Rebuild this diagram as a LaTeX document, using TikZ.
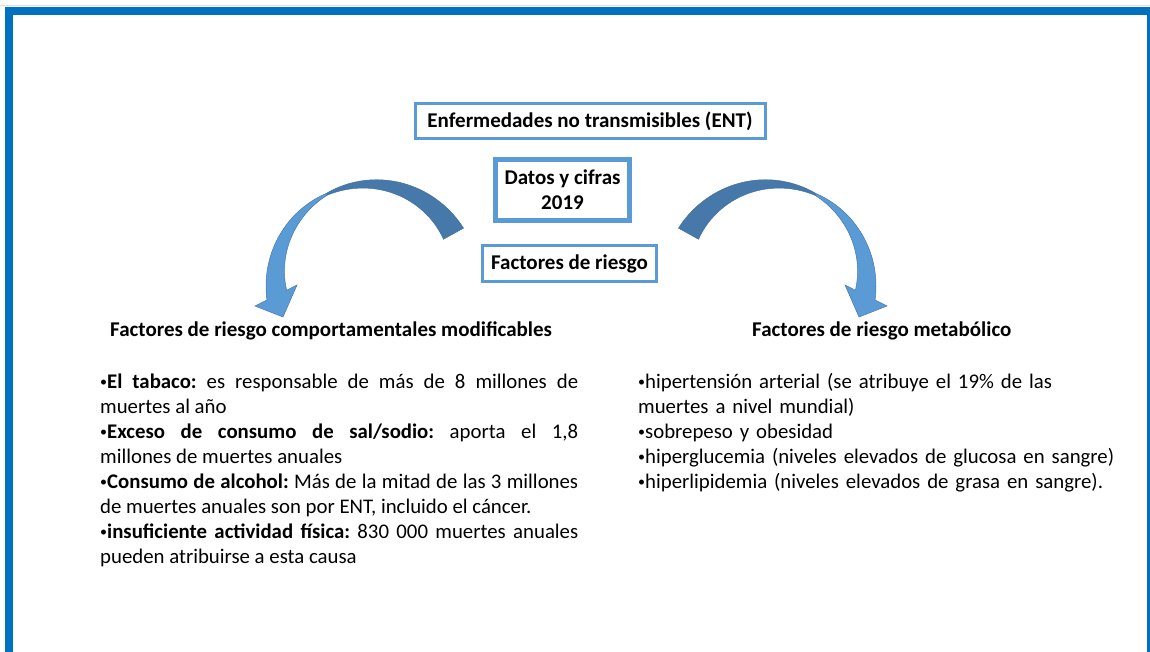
\documentclass[tikz,border=0pt]{standalone}
\usepackage{fontspec}
\setmainfont{Carlito}
\definecolor{framecol}{RGB}{0,112,192}
\definecolor{boxcol}{RGB}{91,155,213}
\definecolor{arrlight}{RGB}{91,155,213}
\definecolor{arrdark}{RGB}{70,121,170}
\definecolor{arredge}{RGB}{70,120,175}
\newcommand{\bul}{{\fontsize{14}{14}\selectfont\raisebox{1.6pt}{•}}}
\tikzset{
  titlebox/.style={draw=boxcol, line width=3pt, fill=white, inner sep=0pt, font=\bfseries\fontsize{21}{25}\selectfont},
  datebox/.style={draw=boxcol, line width=5.5pt, fill=white, inner sep=0pt, align=center, font=\bfseries\fontsize{21}{25}\selectfont},
  heading/.style={inner sep=0pt, anchor=base west, font=\bfseries\fontsize{21}{25}\selectfont},
  bodytext/.style={inner sep=0pt, anchor=base west, font=\fontsize{20.8}{25}\selectfont},
  darkpart/.style={fill=arrdark, draw=arrdark!90!black, line width=0.4pt},
  lightpart/.style={fill=arrlight, draw=arredge, line width=0.5pt}
}
\newcommand{\curvedarrowshape}{%
  \draw[darkpart] plot[domain=29:117,samples=40] ({370+(107-10*(\x-29)/88)*cos(\x)},{280-(107-10*(\x-29)/88)*sin(\x)})
     -- plot[domain=117:29,samples=40] ({370+(84+11*(\x-29)/88)*cos(\x)},{280-(84+11*(\x-29)/88)*sin(\x)}) -- cycle;
  \draw[lightpart] plot[domain=117:191,samples=40] ({370+(97+8*(\x-117)/74)*cos(\x)},{280-(97+8*(\x-117)/74)*sin(\x)})
     -- (255,306) -- (283,317) -- (297,285)
     -- plot[domain=187:117,samples=40] ({370+(95-11*(\x-117)/70)*cos(\x)},{280-(95-11*(\x-117)/70)*sin(\x)}) -- cycle;
}
\begin{document}
\begin{tikzpicture}[x=1pt,y=-1pt]
\useasboundingbox[fill=white] (0,0) rectangle (1150,652);
% frame
\fill[black!13] (0,5) rectangle (1150,6.5);
\fill[framecol] (5,7) rectangle (13,652);
\fill[framecol] (5,7) rectangle (1150,15);
\fill[framecol] (1146.5,7) rectangle (1149.5,652);

% curved arrows
\curvedarrowshape
\begin{scope}[shift={(1142,0)}, xscale=-1]
\curvedarrowshape
\end{scope}

% boxes
\node[titlebox, minimum width=350pt, minimum height=35pt] (ent) at (590,121) {Enfermedades no transmisibles (ENT)};
\node[datebox, minimum width=134pt, minimum height=61pt] (datos) at (562.5,190) {Datos y cifras\\2019};
\node[titlebox, minimum width=174pt, minimum height=35pt] (factores) at (569.5,263.5) {Factores de riesgo};

% headings
\node[heading] (hleft) at (110,336) {Factores de riesgo comportamentales modificables};
\node[heading] (hright) at (752,336) {Factores de riesgo metabólico};

% left text
\node[bodytext, text width=478pt, align=justify] (tleft) at (100,388) {\hyphenpenalty=10000\exhyphenpenalty=10000\frenchspacing%
\bul\textbf{El tabaco:} es responsable de más de 8 millones de\linebreak muertes al año\par
\bul\textbf{Exceso de consumo de sal/sodio:} aporta el 1,8\linebreak millones de muertes anuales\par
\bul\textbf{Consumo de alcohol:} Más de la mitad de las 3 millones\linebreak de muertes anuales son por ENT, incluido el cáncer.\par
\bul\textbf{insuficiente actividad física:} 830 000 muertes anuales\linebreak pueden atribuirse a esta causa};

% right text
\node[bodytext, text width=490pt, align=left] (tright) at (638,388) {\frenchspacing\bul hipertensión arterial (se atribuye el 19\% de las\\
muertes a nivel mundial)\\
\bul sobrepeso y obesidad\\
\bul hiperglucemia (niveles elevados de glucosa en sangre)\\
\bul hiperlipidemia (niveles elevados de grasa en sangre).};
\end{tikzpicture}
\end{document}
